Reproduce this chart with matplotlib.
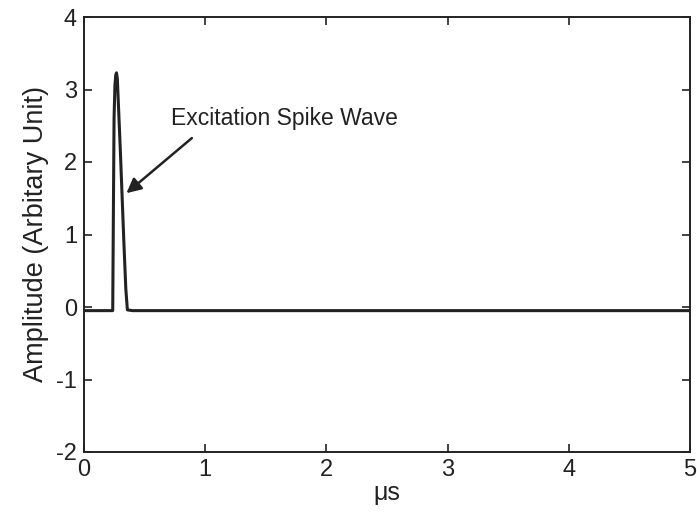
import matplotlib
matplotlib.use("Agg")
import matplotlib.pyplot as plt

plt.rcParams['font.family'] = ['Liberation Sans', 'DejaVu Sans']
plt.rcParams['axes.unicode_minus'] = False

# Signal (time in microseconds, amplitude in arbitrary units)
time_us = [0.0, 0.10, 0.20, 0.237, 0.242, 0.248, 0.255, 0.262, 0.268, 0.275,
           0.285, 0.300, 0.315, 0.330, 0.345, 0.358, 0.40, 1.0, 2.0, 3.0, 4.0, 5.0]
amplitude = [-0.05, -0.05, -0.05, -0.05, 1.2, 2.6, 3.05, 3.2, 3.23, 3.15,
             2.75, 2.15, 1.5, 0.85, 0.25, -0.04, -0.05, -0.05, -0.05, -0.05, -0.05, -0.05]

x_ticks = [0, 1, 2, 3, 4, 5]
y_ticks = [-2, -1, 0, 1, 2, 3, 4]

fig = plt.figure(figsize=(6.97, 5.13), dpi=100)
ax = fig.add_axes([84/697, 1-452/513, (690-84)/697, (452-17)/513])

ax.plot(time_us, amplitude, color='#222222', linewidth=2.2)

ax.set_xlim(0, 5)
ax.set_ylim(-2, 4)
ax.set_xticks(x_ticks)
ax.set_yticks(y_ticks)
ax.tick_params(direction='in', top=True, right=True, length=6, width=1.2,
               labelsize=17, colors='#222222', pad=5)
for s in ax.spines.values():
    s.set_linewidth(1.4)
    s.set_color('#222222')

ax.set_xlabel('μs', fontsize=18, color='#222222', labelpad=0)
ax.set_ylabel('Amplitude (Arbitary Unit)', fontsize=19.5, color='#222222', labelpad=5)

ax.text(0.72, 2.6, 'Excitation Spike Wave', fontsize=16.5, color='#222222',
        va='center', ha='left')
ax.annotate('', xy=(0.35, 1.57), xytext=(0.89, 2.33),
            arrowprops=dict(arrowstyle='-|>', color='#222222', lw=1.8,
                            mutation_scale=22, shrinkA=0, shrinkB=0))

fig.savefig('out.png', dpi=100)
